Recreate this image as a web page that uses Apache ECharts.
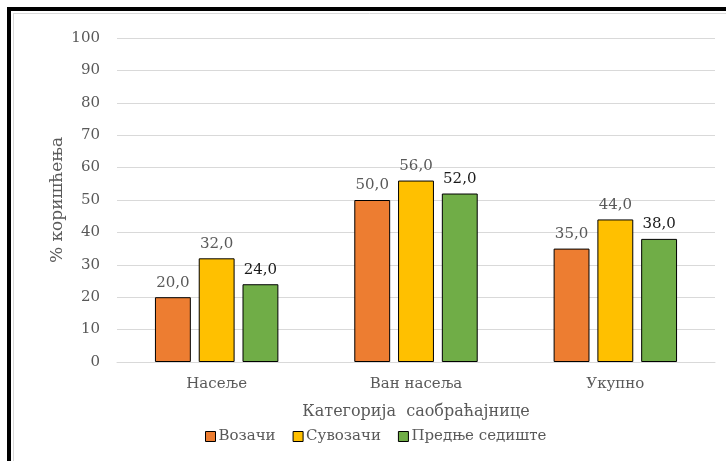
<!DOCTYPE html>
<html>
<head>
<meta charset="utf-8">
<script src="https://cdn.jsdelivr.net/npm/echarts@6/dist/echarts.min.js"></script>
<style>
  html, body { margin: 0; padding: 0; background: #fff; }
  #chart { width: 726px; height: 461px; }
</style>
</head>
<body>
<div id="chart"></div>
<script>
const categories = ['Насеље', 'Ван насеља', 'Укупно']
const vozaci = [20.0, 50.0, 35.0]
const suvozaci = [32.0, 56.0, 44.0]
const prednjeSediste = [24.0, 52.0, 38.0]
const yTicks = { min: 0, max: 100, interval: 10 }

const font = 'DejaVu Serif'
const chart = echarts.init(document.getElementById('chart'), null, { renderer: 'canvas' })

function labelStyle(color) {
  return {
    show: true,
    position: 'top',
    distance: 7,
    color: color,
    fontFamily: font,
    fontSize: 15,
    formatter: p => p.value.toFixed(1).replace('.', ',')
  }
}

chart.setOption({
  animation: false,
  textStyle: { fontFamily: font },
  graphic: [
    // outer black frame (left + top) and inner light border
    { type: 'rect', shape: { x: 7, y: 7, width: 4, height: 461 }, style: { fill: '#000' } },
    { type: 'rect', shape: { x: 7, y: 7, width: 726, height: 4 }, style: { fill: '#000' } },
    { type: 'line', shape: { x1: 13, y1: 13.5, x2: 726, y2: 13.5 }, style: { stroke: '#d9d9d9', lineWidth: 1 } },
    { type: 'line', shape: { x1: 13.5, y1: 13, x2: 13.5, y2: 461 }, style: { stroke: '#d9d9d9', lineWidth: 1 } }
  ],
  grid: { left: 117, right: 11, top: 38, bottom: 99 },
  legend: {
    top: 424,
    left: 200,
    icon: 'rect',
    itemWidth: 10,
    itemHeight: 10,
    itemGap: 17,
    itemStyle: { borderColor: '#000', borderWidth: 1 },
    textStyle: { color: '#595959', fontSize: 15, fontFamily: font, padding: [0, 0, 0, -2] },
    data: ['Возачи', 'Сувозачи', 'Предње седиште']
  },
  xAxis: {
    type: 'category',
    data: categories,
    name: 'Категорија  саобраћајнице',
    nameLocation: 'middle',
    nameGap: 42,
    nameMoveOverlap: false,
    nameTextStyle: { color: '#595959', fontSize: 16, fontFamily: font },
    axisLine: { lineStyle: { color: '#d9d9d9' } },
    axisTick: { show: false },
    axisLabel: { color: '#595959', fontSize: 15, margin: 15, fontFamily: font }
  },
  yAxis: {
    type: 'value',
    min: yTicks.min,
    max: yTicks.max,
    interval: yTicks.interval,
    name: '% коришћења',
    nameLocation: 'middle',
    nameGap: 51,
    nameMoveOverlap: false,
    nameTextStyle: { color: '#595959', fontSize: 17, fontFamily: font },
    axisLine: { show: false },
    axisTick: { show: false },
    axisLabel: { color: '#595959', fontSize: 15, margin: 17, fontFamily: font },
    splitLine: { lineStyle: { color: '#d9d9d9' } }
  },
  series: [
    {
      name: 'Возачи',
      type: 'bar',
      data: vozaci,
      barWidth: '18%',
      barGap: '22%',
      itemStyle: { color: '#ED7D31', borderColor: '#000', borderWidth: 1 },
      label: labelStyle('#595959')
    },
    {
      name: 'Сувозачи',
      type: 'bar',
      data: suvozaci,
      barWidth: '18%',
      barGap: '22%',
      itemStyle: { color: '#FFC000', borderColor: '#000', borderWidth: 1 },
      label: labelStyle('#595959')
    },
    {
      name: 'Предње седиште',
      type: 'bar',
      data: prednjeSediste,
      barWidth: '18%',
      barGap: '22%',
      itemStyle: { color: '#70AD47', borderColor: '#000', borderWidth: 1 },
      label: labelStyle('#1a1a1a')
    }
  ]
})
</script>
</body>
</html>
